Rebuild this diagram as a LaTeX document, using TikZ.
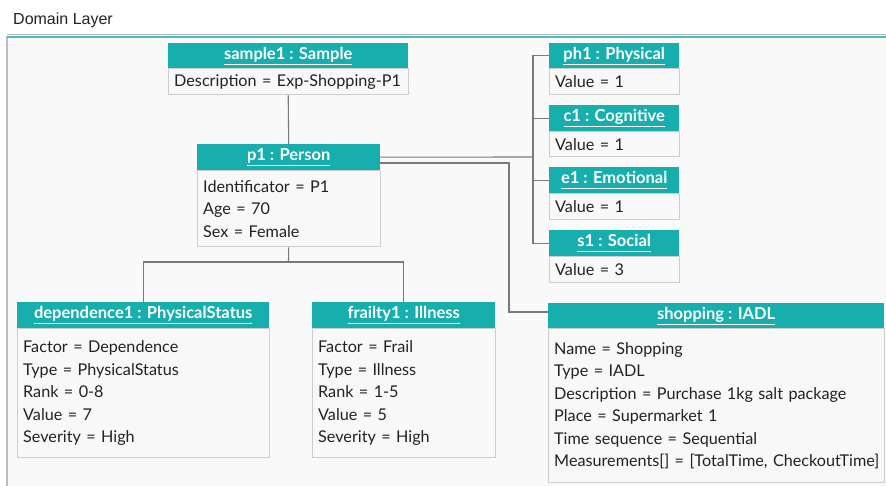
\documentclass[tikz,border=0pt]{standalone}
\usepackage{fontspec}
\setmainfont{Lato}
\newfontfamily\titlefont{Liberation Sans}
\definecolor{hdrteal}{HTML}{16AFAD}
\definecolor{bodyfill}{HTML}{F8F8F8}
\definecolor{bodyline}{HTML}{CDCDCD}
\definecolor{framefill}{HTML}{F9F9F9}
\definecolor{frameedge}{HTML}{BDBDBD}
\definecolor{linkgray}{HTML}{7A7A7A}
\definecolor{textdark}{HTML}{222222}
\newcommand\objname[1]{\underline{#1\vphantom{gy}}}
\tikzset{
  x=1pt, y=-1pt,
  hdr/.style={fill=hdrteal, text=white, anchor=north west, inner sep=0pt,
    font=\fontsize{16.5}{19}\selectfont\bfseries},
  body/.style={fill=bodyfill, draw=bodyline, line width=0.9pt, anchor=north,
    align=left, inner xsep=6pt, inner ysep=0pt, text=textdark,
    font=\fontsize{16.2}{22.5}\selectfont},
  link/.style={draw=linkgray, line width=1.1pt},
}
\begin{document}
\begin{tikzpicture}
\useasboundingbox (0,0) rectangle (886,486);
\fill[white] (0,0) rectangle (886,486);
% layer frame
\fill[framefill] (7,36) rectangle (886,486);
\draw[frameedge, line width=2pt] (7,36) -- (7,486);
\draw[black!30, line width=1pt] (7,35) -- (886,35);
\draw[hdrteal!80, line width=1.2pt] (7,37) -- (886,37);
\node[anchor=west, inner sep=0pt, text=textdark, font=\titlefont\fontsize{16}{18}\selectfont] (title) at (13,20) {Domain Layer};

% sample1
\node[hdr, minimum width=240, minimum height=25] (smh) at (168,43) {\objname{sample1 : Sample}};
\node[body, minimum height=26, text width=228] (smb) at (smh.south) {\mbox{Description = Exp-Shopping-P1}};
% p1
\node[hdr, minimum width=183, minimum height=26] (p1h) at (197,144) {\objname{p1 : Person}};
\node[body, minimum height=76, text width=171] (p1b) at (p1h.south) {Identificator = P1\\Age = 70\\Sex = Female};
% status objects
\node[hdr, minimum width=130, minimum height=25] (phh) at (549,43) {\objname{ph1 : Physical}};
\node[body, minimum height=26, text width=118] (phb) at (phh.south) {Value = 1};
\node[hdr, minimum width=130, minimum height=26] (cgh) at (549,105) {\objname{c1 : Cognitive}};
\node[body, minimum height=25, text width=118] (cgb) at (cgh.south) {Value = 1};
\node[hdr, minimum width=130, minimum height=26] (emh) at (549,167) {\objname{e1 : Emotional}};
\node[body, minimum height=26, text width=118] (emb) at (emh.south) {Value = 1};
\node[hdr, minimum width=130, minimum height=26] (soh) at (549,230) {\objname{s1 : Social}};
\node[body, minimum height=26, text width=118] (sob) at (soh.south) {Value = 3};
% dependence1
\node[hdr, minimum width=252, minimum height=26] (dph) at (17,302) {\objname{dependence1 : PhysicalStatus}};
\node[body, minimum height=129, text width=240] (dpb) at (dph.south) {Factor = Dependence\\Type = PhysicalStatus\\Rank = 0-8\\Value = 7\\Severity = High};
% frailty1
\node[hdr, minimum width=183, minimum height=26] (frh) at (312,302) {\objname{frailty1 : Illness}};
\node[body, minimum height=129, text width=171] (frb) at (frh.south) {Factor = Frail\\Type = Illness\\Rank = 1-5\\Value = 5\\Severity = High};
% shopping
\node[hdr, minimum width=336, minimum height=25] (shh) at (548,303) {\objname{shopping : IADL}};
\node[body, minimum height=154, text width=324] (shb) at (shh.south) {Name = Shopping\\Type = IADL\\\mbox{Description = Purchase 1kg salt package}\\Place = Supermarket 1\\Time sequence = Sequential\\\mbox{Measurements[] = [TotalTime, CheckoutTime]}};

% connectors
\coordinate (bus) at (533,157);
\coordinate (tree) at (288.5,262);
\coordinate (jog) at (509,163);
\coordinate (jog2) at (509,312);
\draw[link] (smb.south) -- (p1h.north);
\draw[link] (p1h.east) -- (bus);
\draw[link] (phh.west) -- (phh.west -| bus) -- (soh.west -| bus) -- (soh.west);
\draw[link] (cgh.west) -- (cgh.west -| bus);
\draw[link] (emh.west) -- (emh.west -| bus);
\draw[link] (p1h.east |- jog) -- (jog) -- (jog2) -- (shh.west |- jog2);
\draw[link] (p1b.south) -- (tree);
\draw[link] (dph.north) |- (tree) -| (frh.north);
\end{tikzpicture}
\end{document}
